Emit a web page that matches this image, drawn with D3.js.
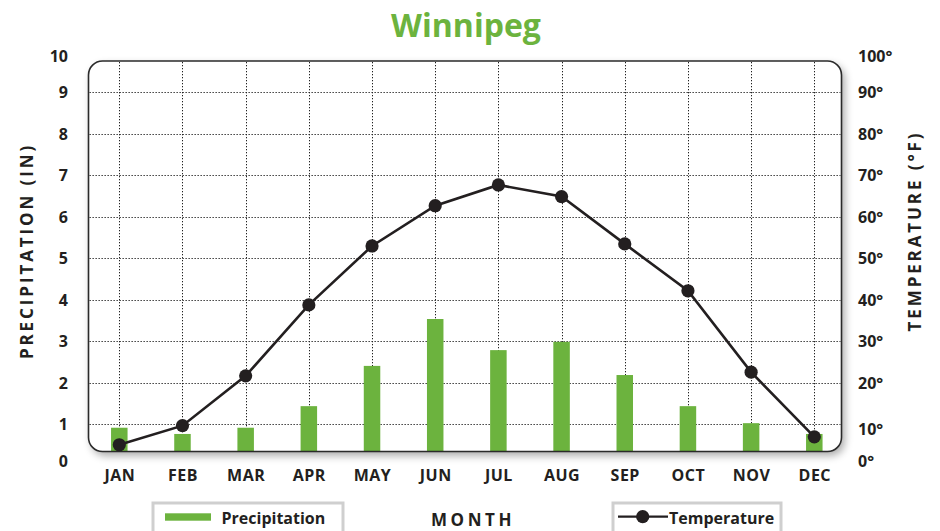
<!DOCTYPE html>
<html>
<head>
<meta charset="utf-8">
<script src="https://cdnjs.cloudflare.com/ajax/libs/d3/7.8.5/d3.min.js"></script>
<style>
  body { margin: 0; background: #fff; }
  text { font-family: "Open Sans", "Noto Sans", sans-serif; fill: #231f20; }
</style>
</head>
<body>
<div id="chart"></div>
<script>
// data
const months = ["JAN", "FEB", "MAR", "APR", "MAY", "JUN", "JUL", "AUG", "SEP", "OCT", "NOV", "DEC"];
const precipitation = [0.91, 0.76, 0.91, 1.43, 2.40, 3.53, 2.78, 2.98, 2.18, 1.43, 1.02, 0.76];
const temperature = [5.0, 9.6, 21.6, 38.7, 52.9, 62.6, 67.6, 64.8, 53.4, 42.1, 22.5, 6.9];
const precipTicks = [0, 1, 2, 3, 4, 5, 6, 7, 8, 9, 10];
const tempTicks = [0, 10, 20, 30, 40, 50, 60, 70, 80, 90, 100];

const width = 940, height = 531;
const green = "#6cb33e", ink = "#231f20";

const svg = d3.select("#chart").append("svg")
    .attr("width", width)
    .attr("height", height);

const defs = svg.append("defs");
const shadow = defs.append("filter").attr("id", "shadow")
    .attr("x", "-5%").attr("y", "-5%").attr("width", "115%").attr("height", "120%");
shadow.append("feGaussianBlur").attr("in", "SourceAlpha").attr("stdDeviation", 4);
shadow.append("feOffset").attr("dx", 3).attr("dy", 4).attr("result", "blur");
shadow.append("feComponentTransfer").append("feFuncA").attr("type", "linear").attr("slope", 0.35);
const merge = shadow.append("feMerge");
merge.append("feMergeNode");
merge.append("feMergeNode").attr("in", "SourceGraphic");

// scales
const x = d3.scalePoint().domain(months).range([119.3, 814.3]);
const y = d3.scaleLinear().domain([0, 10]).range([465.5, 50.5]);
const yT = d3.scaleLinear().domain([0, 100]).range([465.5, 50.5]);

// plot box
const box = {left: 88.5, right: 841.5, top: 61, bottom: 451.5};

svg.append("rect")
    .attr("x", box.left).attr("y", box.top)
    .attr("width", box.right - box.left).attr("height", box.bottom - box.top)
    .attr("rx", 14).attr("ry", 14)
    .attr("fill", "#fff")
    .attr("filter", "url(#shadow)");

// grid
const grid = svg.append("g")
    .attr("stroke", "#222")
    .attr("stroke-width", 1)
    .attr("stroke-dasharray", "1.3,1.7");

grid.selectAll(".h").data(precipTicks.filter(d => d > 0 && d < 10)).join("line")
    .attr("x1", box.left + 1).attr("x2", box.right - 1)
    .attr("y1", d => Math.round(y(d)) + 0.5).attr("y2", d => Math.round(y(d)) + 0.5);

grid.selectAll(".v").data(months).join("line")
    .attr("x1", d => Math.round(x(d)) + 0.5).attr("x2", d => Math.round(x(d)) + 0.5)
    .attr("y1", box.top + 1).attr("y2", box.bottom - 1);

// bars
const barW = 16.5;
svg.append("g").selectAll("rect").data(months).join("rect")
    .attr("x", d => x(d) - barW / 2)
    .attr("width", barW)
    .attr("y", (d, i) => y(precipitation[i]))
    .attr("height", (d, i) => box.bottom - y(precipitation[i]))
    .attr("fill", green);

// box outline on top
svg.append("rect")
    .attr("x", box.left).attr("y", box.top)
    .attr("width", box.right - box.left).attr("height", box.bottom - box.top)
    .attr("rx", 14).attr("ry", 14)
    .attr("fill", "none")
    .attr("stroke", "#2b2b2b")
    .attr("stroke-width", 1.6);

// temperature line
const line = d3.line()
    .x((d, i) => x(months[i]))
    .y(d => yT(d));

svg.append("path")
    .datum(temperature)
    .attr("d", line)
    .attr("fill", "none")
    .attr("stroke", ink)
    .attr("stroke-width", 2.6);

svg.append("g").selectAll("circle").data(temperature).join("circle")
    .attr("cx", (d, i) => x(months[i]))
    .attr("cy", d => yT(d))
    .attr("r", 6.6)
    .attr("fill", ink);

// axes (labels only)
const nudge = d => (d === 0 ? -5 : d === 10 || d === 100 ? 5 : 0);

const leftAxis = svg.append("g")
    .attr("transform", "translate(68,0)")
    .call(d3.axisLeft(y).tickValues(precipTicks).tickSize(0).tickPadding(0));
leftAxis.select(".domain").remove();
leftAxis.selectAll(".tick text")
    .attr("dy", d => (0.35 * 16 + nudge(d)) + "px")
    .style("font-size", "16px").style("font-weight", 700).attr("fill", ink);

const rightAxis = svg.append("g")
    .attr("transform", "translate(858,0)")
    .call(d3.axisRight(yT).tickValues(tempTicks).tickSize(0).tickPadding(0)
        .tickFormat(d => d + "°"));
rightAxis.select(".domain").remove();
rightAxis.selectAll(".tick text")
    .attr("dy", d => (0.35 * 16 + nudge(d)) + "px")
    .style("font-size", "16px").style("font-weight", 700).attr("fill", ink);

const bottomAxis = svg.append("g")
    .attr("transform", "translate(0,470)")
    .call(d3.axisBottom(x).tickSize(0).tickPadding(0));
bottomAxis.select(".domain").remove();
bottomAxis.selectAll(".tick text")
    .attr("dy", "11px")
    .style("font-size", "16px").style("font-weight", 700)
    .style("letter-spacing", "0.5px").attr("fill", ink);

// title
svg.append("text")
    .attr("x", 466).attr("y", 36.5)
    .attr("text-anchor", "middle")
    .style("font-size", "32px").style("font-weight", 700)
    .style("fill", green)
    .text("Winnipeg");

// axis titles
svg.append("text")
    .attr("transform", "translate(33,251) rotate(-90)")
    .attr("text-anchor", "middle")
    .style("font-size", "17px").style("font-weight", 700)
    .style("letter-spacing", "2.9px")
    .text("PRECIPITATION (IN)");

svg.append("text")
    .attr("transform", "translate(921,231) rotate(-90)")
    .attr("text-anchor", "middle")
    .style("font-size", "17px").style("font-weight", 700)
    .style("letter-spacing", "2.9px")
    .text("TEMPERATURE (°F)");

svg.append("text")
    .attr("x", 473).attr("y", 525.5)
    .attr("text-anchor", "middle")
    .style("font-size", "17px").style("font-weight", 700)
    .style("letter-spacing", "3.6px")
    .text("MONTH");

// legends
const legP = svg.append("g");
legP.append("rect")
    .attr("x", 153).attr("y", 503)
    .attr("width", 190).attr("height", 34)
    .attr("fill", "#fff").attr("stroke", "#cfcfcf").attr("stroke-width", 3);
legP.append("rect")
    .attr("x", 165).attr("y", 513.3)
    .attr("width", 46).attr("height", 7.4)
    .attr("fill", green);
legP.append("text")
    .attr("x", 221.5).attr("y", 523.5)
    .style("font-size", "16px").style("font-weight", 700)
    .text("Precipitation");

const legT = svg.append("g");
legT.append("rect")
    .attr("x", 613).attr("y", 503)
    .attr("width", 168).attr("height", 34)
    .attr("fill", "#fff").attr("stroke", "#cfcfcf").attr("stroke-width", 3);
legT.append("line")
    .attr("x1", 618).attr("x2", 668)
    .attr("y1", 516.7).attr("y2", 516.7)
    .attr("stroke", ink).attr("stroke-width", 2.2);
legT.append("circle")
    .attr("cx", 642.7).attr("cy", 516.7).attr("r", 6.6)
    .attr("fill", ink);
legT.append("text")
    .attr("x", 669).attr("y", 523.5)
    .style("font-size", "16px").style("font-weight", 700)
    .text("Temperature");
</script>
</body>
</html>
